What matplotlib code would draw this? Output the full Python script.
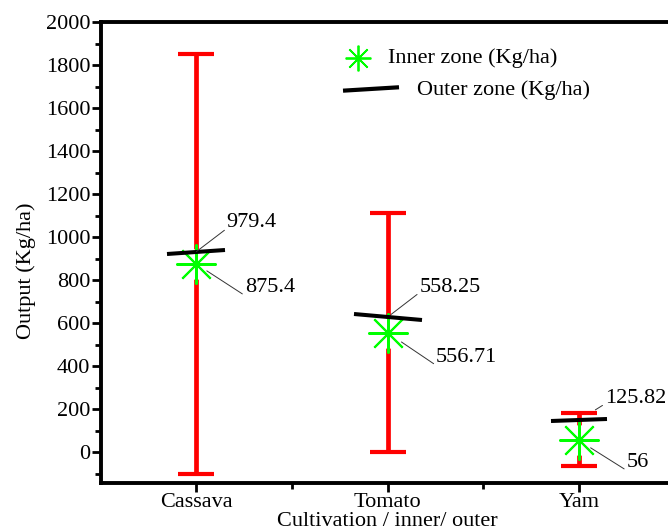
import numpy as np
import matplotlib
matplotlib.use("Agg")
import matplotlib.pyplot as plt
from matplotlib.lines import Line2D
from matplotlib.markers import MarkerStyle
from matplotlib.transforms import Affine2D
from matplotlib.ticker import FixedLocator, MultipleLocator

plt.rcParams.update({
    "font.family": "serif",
    "font.serif": ["Liberation Serif", "DejaVu Serif"],
    "font.size": 16,
})

# ---- data ----
crops = ["Cassava", "Tomato", "Yam"]
inner = [875.4, 556.71, 56]          # inner zone output, Kg/ha (green stars)
outer = [933, 629, 150]              # outer zone bars as drawn
outer_labels = ["979.4", "558.25", "125.82"]
err_low = [-100, 0, -62]             # red error bar ends
err_high = [1850, 1114, 184]

GREEN = "#00ff00"
RED = "#ff0000"

# per-marker styling for the tilted outer-zone dashes
outer_angle = [3.3, -4.8, 2.3]
outer_len = [41.5, 49, 41]

x = np.arange(1, len(crops) + 1)
inner_arr = np.array(inner)
yerr = [inner_arr - np.array(err_low), np.array(err_high) - inner_arr]

W, H = 668, 531
fig = plt.figure(figsize=(W / 100, H / 100), dpi=100)
ax = fig.add_axes([100.7 / W, 1 - 482.6 / H, 573.8 / W, 460.6 / H])

ax.errorbar(x, inner, yerr=yerr, fmt="none", ecolor=RED, elinewidth=3.4,
            capsize=13.3, capthick=3.0, zorder=2)
# gap in the error bar around the marker
ax.plot(x, inner, ls="none", marker="o", ms=22, mfc="white", mec="none", zorder=3)
ax.plot(x, inner, ls="none", marker=(8, 2, 0), ms=28.8, mew=1.5,
        mec=GREEN, mfc=GREEN, zorder=4)
for xi, yo, a, L in zip(x, outer, outer_angle, outer_len):
    ax.plot(xi, yo, ls="none",
            marker=MarkerStyle("_", transform=Affine2D().rotate_deg(a)),
            ms=L, mew=2.9, mec="black", zorder=5)

# value labels with leader lines
lead = dict(arrowstyle="-", lw=0.7, color="#333333", patchA=None)
out_off = [(21.8, 20.7), (22.8, 21.6), (18.7, 15.8)]
out_shrink = [0, 3, 14]
in_off = [(34.8, -17.1), (34.8, -18.0), (34.3, -16.1)]
in_shrink = [9, 12, 10]
for i in range(len(crops)):
    ax.annotate(outer_labels[i], xy=(x[i], outer[i]), xytext=out_off[i],
                textcoords="offset points", ha="left", va="center",
                fontsize=16, zorder=6,
                arrowprops=dict(lead, relpos=(0, 0.2), shrinkA=2,
                                shrinkB=out_shrink[i]))
    ax.annotate(f"{inner[i]:g}", xy=(x[i], inner[i]), xytext=in_off[i],
                textcoords="offset points", ha="left", va="center",
                fontsize=16, zorder=6,
                arrowprops=dict(lead, relpos=(0, 0.1), shrinkA=2,
                                shrinkB=in_shrink[i]))

# legend drawn by hand (entries are offset differently)
ax.add_line(Line2D([0.4484], [0.9212], transform=ax.transAxes, ls="none",
                   marker=(8, 2, 0), ms=18.5, mew=1.3, mec=GREEN, clip_on=False))
ax.text(0.5007, 0.9218, "Inner zone (Kg/ha)", transform=ax.transAxes,
        ha="left", va="center", fontsize=16)
ax.add_line(Line2D([0.4223, 0.5199], [0.8509, 0.8583], transform=ax.transAxes,
                   color="black", lw=3.0, solid_capstyle="butt", clip_on=False))
ax.text(0.5507, 0.8524, "Outer zone (Kg/ha)", transform=ax.transAxes,
        ha="left", va="center", fontsize=16)

# axes
ax.set_xlim(0.5, 3.5)
ax.set_ylim(-140, 2000)
ax.set_xticks(x)
ax.set_xticklabels(crops)
ax.xaxis.set_minor_locator(FixedLocator([1.5, 2.5]))
ax.yaxis.set_major_locator(FixedLocator(np.arange(0, 2001, 200)))
ax.yaxis.set_minor_locator(MultipleLocator(100))
ax.tick_params(which="major", direction="out", length=6.5, width=2.0,
               labelsize=16, pad=1)
ax.tick_params(which="minor", direction="out", length=4.0, width=2.0)
for s in ("left", "top", "bottom"):
    ax.spines[s].set_linewidth(2.8)
ax.spines["right"].set_visible(False)

ax.set_xlabel("Cultivation / inner/ outer", fontsize=16, labelpad=0)
ax.set_ylabel("Output (Kg/ha)", fontsize=16)
ax.yaxis.set_label_coords(-0.113, 0.459)

fig.savefig("out.png", dpi=100)
